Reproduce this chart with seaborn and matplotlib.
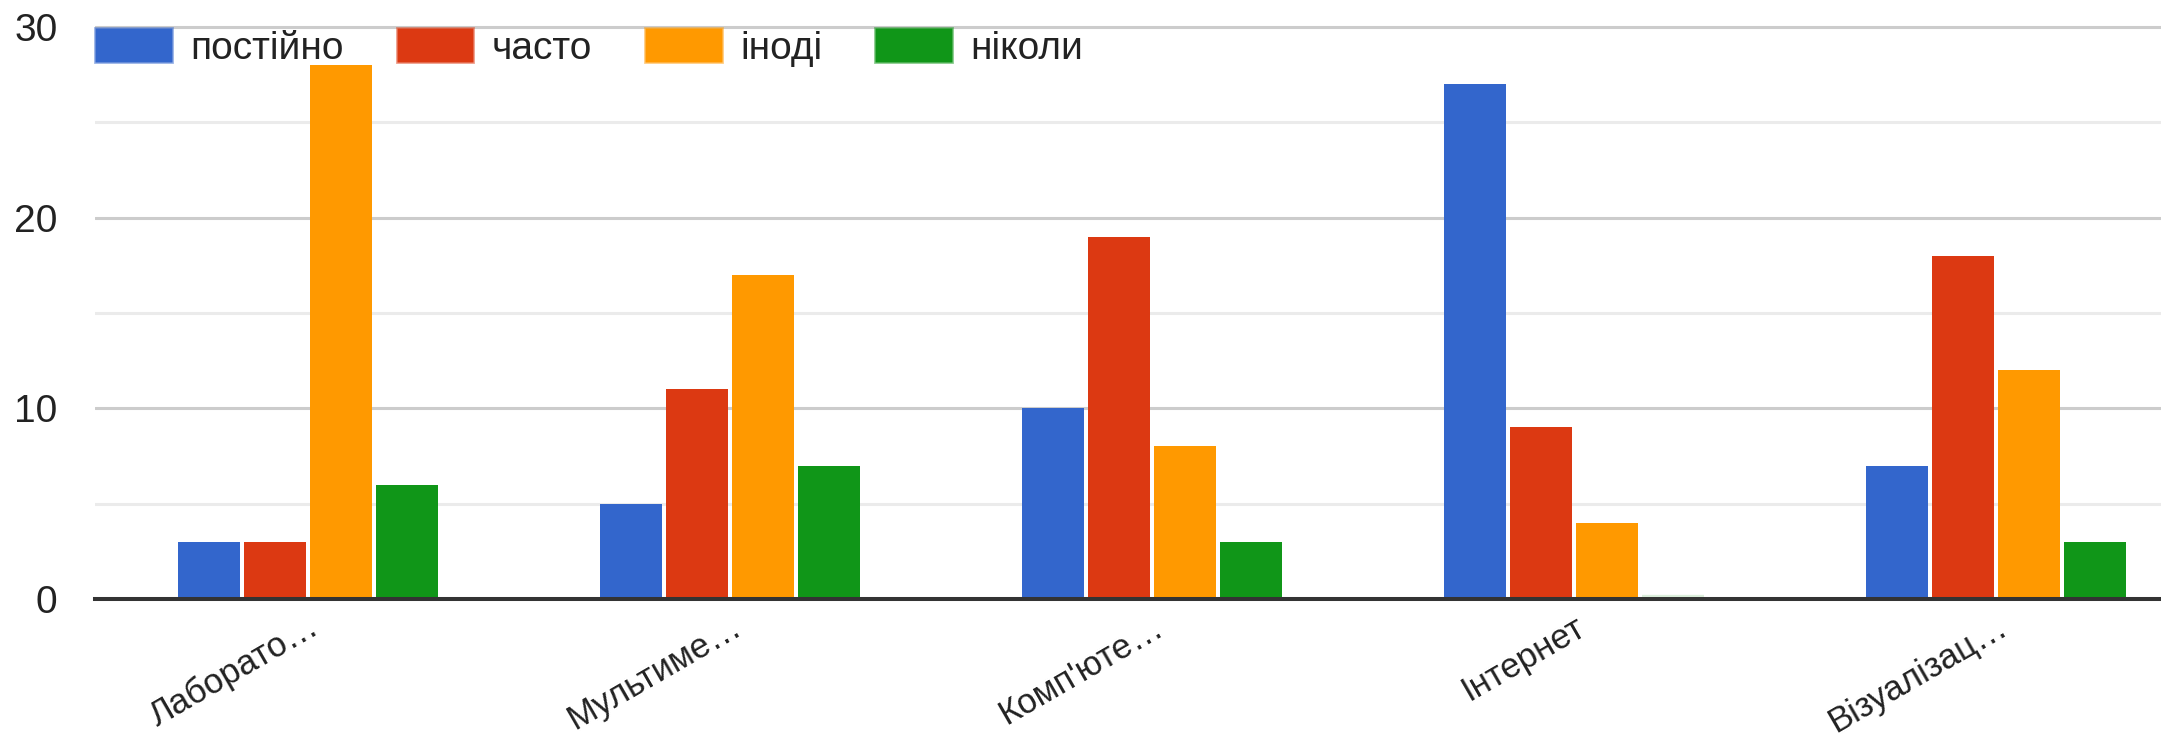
import pandas as pd
import numpy as np
import matplotlib.pyplot as plt
import seaborn as sns
from matplotlib.patches import Patch
from matplotlib.colors import to_rgba

# data
categories = ['Лаборато…', 'Мультиме…', "Комп'юте…", 'Інтернет', 'Візуалізац…']
series = ['постійно', 'часто', 'іноді', 'ніколи']
postiyno = [3, 5, 10, 27, 7]
chasto = [3, 11, 19, 9, 18]
inodi = [28, 17, 8, 4, 12]
nikoly = [6, 7, 3, 0, 3]
colors = ['#3366cc', '#dc3912', '#ff9900', '#109618']

df = pd.DataFrame({
    'category': categories * 4,
    'series': np.repeat(series, len(categories)),
    'value': postiyno + chasto + inodi + nikoly,
})

sns.set_theme(style='white')
plt.rcParams['font.family'] = ['Liberation Sans', 'DejaVu Sans']

W, H = 2161, 743
fig = plt.figure(figsize=(W / 100, H / 100), dpi=100)
y_top = 30.2
px_unit = (599 - 27) / 30
top_px = 599 - y_top * px_unit
ax = fig.add_axes([95 / W, (H - 599) / H, 1 - 95 / W, (599 - top_px) / H])

sns.barplot(data=df, x='category', y='value', hue='series', order=categories,
            hue_order=series, palette=colors, width=0.625, gap=0.06,
            saturation=1, errorbar=None, linewidth=0, edgecolor='none',
            legend=False, ax=ax)

# zero-height bar shows as a faint sliver above the baseline
for p in ax.patches:
    if p.get_height() == 0:
        p.set_edgecolor('#dcefdc')
        p.set_linewidth(6)

ax.set_ylim(0, y_top)
ax.set_xlim(-0.505, 4.39)
ax.set_yticks([0, 10, 20, 30])
ax.set_yticks([5, 15, 25], minor=True)
ax.yaxis.grid(True, which='major', color='#cccccc', linewidth=2.2)
ax.yaxis.grid(True, which='minor', color='#ebebeb', linewidth=2.2)
ax.xaxis.grid(False)
ax.set_axisbelow(True)

for s in ['top', 'left', 'right']:
    ax.spines[s].set_visible(False)
ax.spines['bottom'].set_color('#333333')
ax.spines['bottom'].set_linewidth(2.9)
ax.spines['bottom'].set_zorder(5)

ax.tick_params(axis='both', which='both', length=0, labelsize=28, colors='#222222')
ax.tick_params(axis='y', pad=27)
ax.tick_params(axis='x', pad=8, labelsize=25)
ax.set_xticks(range(len(categories)))
ax.set_xticklabels(categories, rotation=30, ha='right', rotation_mode='anchor')
ax.set_xlabel('')
ax.set_ylabel('')

handles = [Patch(facecolor=c, edgecolor=to_rgba(c, 0.5), linewidth=2) for c in colors]
leg = ax.legend(handles, series, loc='center left',
                bbox_to_anchor=(0, (599 - 47.5) / (599 - top_px)), ncol=4,
                frameon=False, fontsize=28, handlelength=1.97, handleheight=0.97,
                handletextpad=0.47, columnspacing=1.37, borderpad=0, borderaxespad=0)
for t in leg.get_texts():
    t.set_color('#222222')

fig.savefig('out.png', dpi=100)
